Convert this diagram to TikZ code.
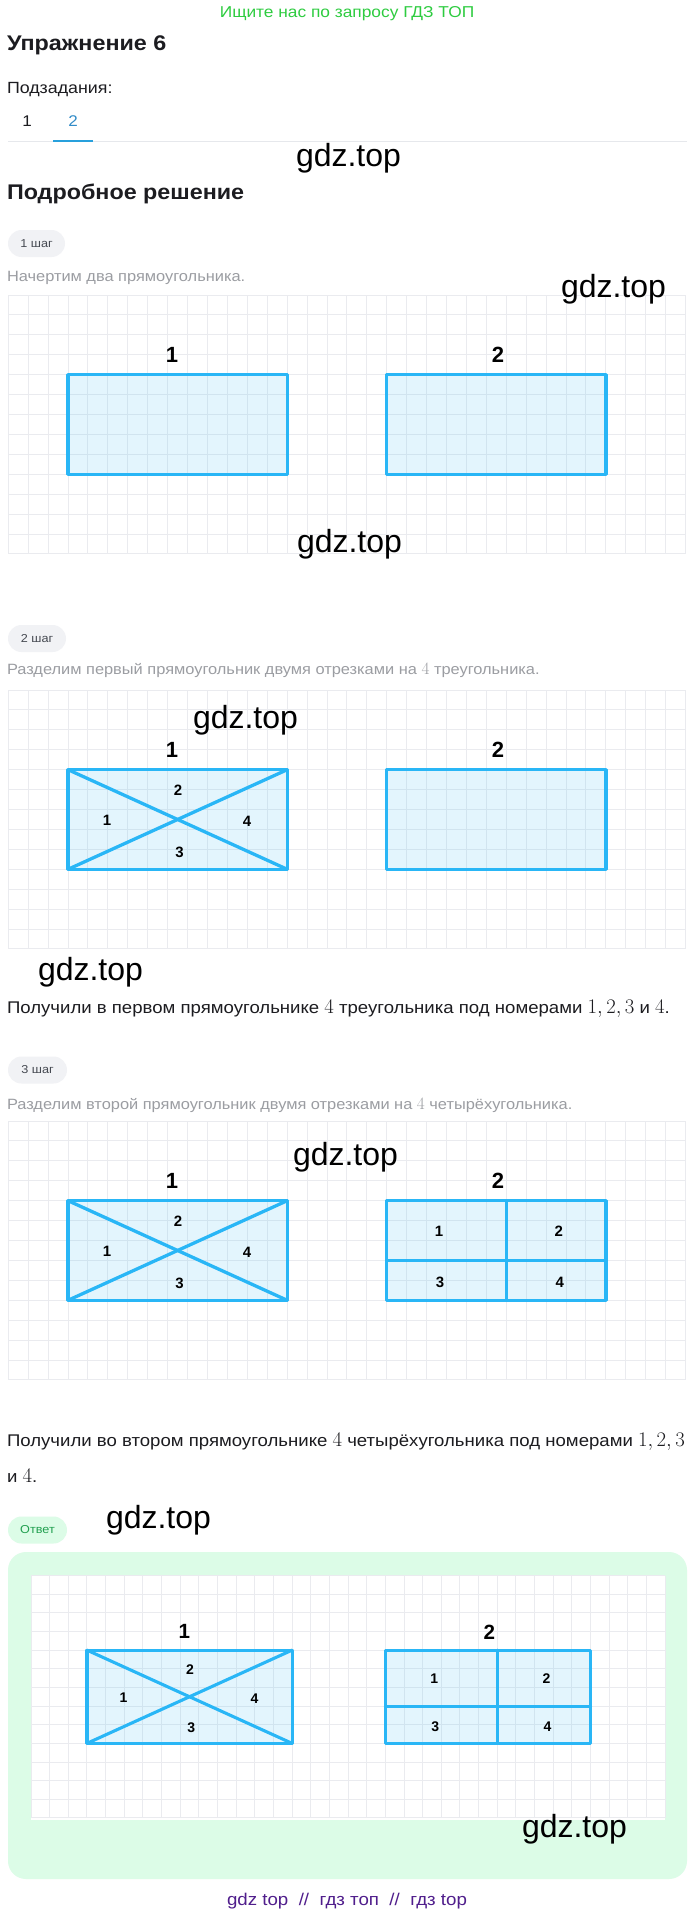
\documentclass[tikz,border=0pt]{standalone}
\usepackage{fontspec}
\setmainfont{Liberation Sans}[FakeStretch=1.1]
\newfontfamily\plainsans{Liberation Sans}

\definecolor{figblue}{RGB}{41,182,246}
\definecolor{gridgray}{RGB}{234,235,239}
\definecolor{hdrgreen}{RGB}{46,204,64}
\definecolor{txtgray}{RGB}{155,157,162}
\definecolor{txtdark}{RGB}{28,28,32}
\definecolor{pillgray}{RGB}{241,242,245}
\definecolor{pilltext}{RGB}{70,74,82}
\definecolor{ansbg}{RGB}{220,252,231}
\definecolor{ansgreen}{RGB}{34,160,80}
\definecolor{tabblue}{RGB}{50,140,200}
\definecolor{ulblue}{RGB}{40,160,220}
\definecolor{linegray}{RGB}{230,232,236}
\definecolor{wmpurple}{RGB}{80,30,140}

\newcommand\fsz[1]{\fontsize{#1}{#1}\selectfont}
\newcommand\bmath[1]{{\fsz{20.2}$#1$}}
\newcommand\gmath[1]{{\fsz{17.8}$#1$}}

\tikzset{
  every node/.style={inner sep=0pt, outer sep=0pt},
  txt/.style={anchor=base west, text=txtdark},
  gtxt/.style={anchor=base west, text=txtgray, font=\fsz{14.9}},
  btxt/.style={anchor=base west, text=txtdark, font=\fsz{16.9}},
  wm/.style={anchor=base west, text=black, font=\plainsans\fsz{32}},
  pill/.style={rectangle, rounded corners=13.5pt, fill=pillgray, text=pilltext,
    minimum height=27pt, font=\fsz{11.5}},
  gridline/.style={draw=gridgray, line width=1pt},
  figfill/.style={fill=figblue, fill opacity=0.13},
  figline/.style={draw=figblue, line width=#1, line cap=round, line join=round},
  lab/.style={text=black, font=\plainsans\bfseries\fsz{#1}},
}

% #1 prefix, #2 stage, #3 line width, #4 big label size, #5 small label size
\newcommand\drawfig[5]{%
  \foreach \i in {0,...,34} {\draw[gridline] (\i,0) -- (\i,13);}
  \foreach \j in {0,...,13} {\draw[gridline] (0,\j) -- (34,\j);}
  \coordinate (#1-a) at (3,4);  \coordinate (#1-b) at (14,4);
  \coordinate (#1-c) at (14,9); \coordinate (#1-d) at (3,9);
  \coordinate (#1-e) at (19,4); \coordinate (#1-f) at (30,4);
  \coordinate (#1-g) at (30,9); \coordinate (#1-h) at (19,9);
  \fill[figfill] (#1-a) rectangle (#1-c);
  \fill[figfill] (#1-e) rectangle (#1-g);
  \ifnum#2>0
    \draw[figline=#3] (#1-a) -- (#1-c);
    \draw[figline=#3] (#1-d) -- (#1-b);
    \node[lab=#5] (#1-t2) at (8.52,5.02) {2};
    \node[lab=#5] (#1-t1) at (4.96,6.53) {1};
    \node[lab=#5] (#1-t4) at (11.98,6.6) {4};
    \node[lab=#5] (#1-t3) at (8.6,8.15) {3};
  \fi
  \ifnum#2>1
    \coordinate (#1-vt) at (25,4); \coordinate (#1-vb) at (25,9);
    \coordinate (#1-hl) at (19,7); \coordinate (#1-hr) at (30,7);
    \draw[figline=#3] (#1-vt) -- (#1-vb);
    \draw[figline=#3] (#1-hl) -- (#1-hr);
    \node[lab=#5] (#1-q1) at (21.62,5.52) {1};
    \node[lab=#5] (#1-q2) at (27.64,5.52) {2};
    \node[lab=#5] (#1-q3) at (21.67,8.08) {3};
    \node[lab=#5] (#1-q4) at (27.69,8.08) {4};
  \fi
  \draw[figline=#3] (#1-a) -- (#1-b) -- (#1-c) -- (#1-d) -- cycle;
  \draw[figline=#3] (#1-e) -- (#1-f) -- (#1-g) -- (#1-h) -- cycle;
  \node[lab=#4] (#1-n1) at (8.22,3.0) {1};
  \node[lab=#4] (#1-n2) at (24.58,3.02) {2};
}

\begin{document}
\begin{tikzpicture}[x=1pt, y=-1pt]
\useasboundingbox[fill=white] (0,0) rectangle (695,1916);

% header
\node[anchor=base, text=hdrgreen, font=\fsz{15.75}] (hdr) at (347,17.5) {Ищите нас по запросу ГДЗ ТОП};
\node[txt, font=\bfseries\fsz{21.2}] (title) at (7,50.5) {Упражнение 6};
\node[txt, font=\fsz{16.2}] (sub) at (7,94) {Подзадания:};
\node[anchor=base, text=txtdark, font=\fsz{15.5}] (tab1) at (27,127) {1};
\node[anchor=base, text=tabblue, font=\fsz{15.5}] (tab2) at (73,127) {2};
\coordinate (rule-l) at (8,142); \coordinate (rule-r) at (687,142);
\draw[linegray, line width=1pt] (rule-l) -- (rule-r);
\coordinate (ul-l) at (53,140.8); \coordinate (ul-r) at (93,140.8);
\draw[ulblue, line width=2.5pt] (ul-l) -- (ul-r);

\node[txt, font=\bfseries\fsz{21.2}] (solution) at (7,199) {Подробное решение};

% step 1
\node[pill, minimum width=57pt] (step1) at (36.5,243.5) {1 шаг};
\node[gtxt] (t1) at (7,281) {Начертим два прямоугольника.};
\begin{scope}[shift={(8.3,295)}, x=19.92pt, y=-19.92pt]
  \drawfig{sa}{0}{3.3pt}{22}{15}
\end{scope}

% step 2
\node[pill, minimum width=58pt] (step2) at (37,638.5) {2 шаг};
\node[gtxt] (t2) at (7,674) {Разделим первый прямоугольник двумя отрезками на \gmath{4} треугольника.};
\begin{scope}[shift={(8.3,690)}, x=19.92pt, y=-19.92pt]
  \drawfig{sb}{1}{3.3pt}{22}{15}
\end{scope}
\node[btxt] (r1) at (7,1013) {Получили в первом прямоугольнике \bmath{4} треугольника под номерами \bmath{1, 2, 3} и \bmath{4}.};

% step 3
\node[pill, minimum width=59pt] (step3) at (37.5,1070) {3 шаг};
\node[gtxt] (t3) at (7,1109) {Разделим второй прямоугольник двумя отрезками на \gmath{4} четырёхугольника.};
\begin{scope}[shift={(8.3,1121)}, x=19.92pt, y=-19.92pt]
  \drawfig{sc}{2}{3.3pt}{22}{15}
\end{scope}
\node[btxt] (r2) at (7,1446) {Получили во втором прямоугольнике \bmath{4} четырёхугольника под номерами \bmath{1, 2, 3}};
\node[btxt] (r3) at (7,1482) {и \bmath{4}.};

% answer
\node[pill, fill=ansbg, text=ansgreen, minimum width=59pt] (ans) at (37.5,1530) {Ответ};
\node[fill=ansbg, rounded corners=18pt, minimum width=679pt, minimum height=327pt] (ansbox) at (347.5,1715.5) {};
\node[fill=white, minimum width=634pt, minimum height=244pt] (anspic) at (348,1698) {};
\begin{scope}[shift={(31,1575.5)}, x=18.65pt, y=-18.65pt]
  \drawfig{sd}{2}{3.1pt}{20.6}{14}
\end{scope}

% watermarks
\node[wm] (w1) at (296,166) {gdz.top};
\node[wm] (w2) at (561,297) {gdz.top};
\node[wm] (w3) at (297,552) {gdz.top};
\node[wm] (w4) at (193,728) {gdz.top};
\node[wm] (w5) at (38,980) {gdz.top};
\node[wm] (w6) at (293,1165) {gdz.top};
\node[wm] (w7) at (106,1528) {gdz.top};
\node[wm] (w8) at (522,1837) {gdz.top};

% footer
\node[anchor=base, text=wmpurple, font=\fsz{17}] (foot) at (347,1905) {gdz top~ //~ гдз топ~ //~ гдз top};
\end{tikzpicture}
\end{document}
